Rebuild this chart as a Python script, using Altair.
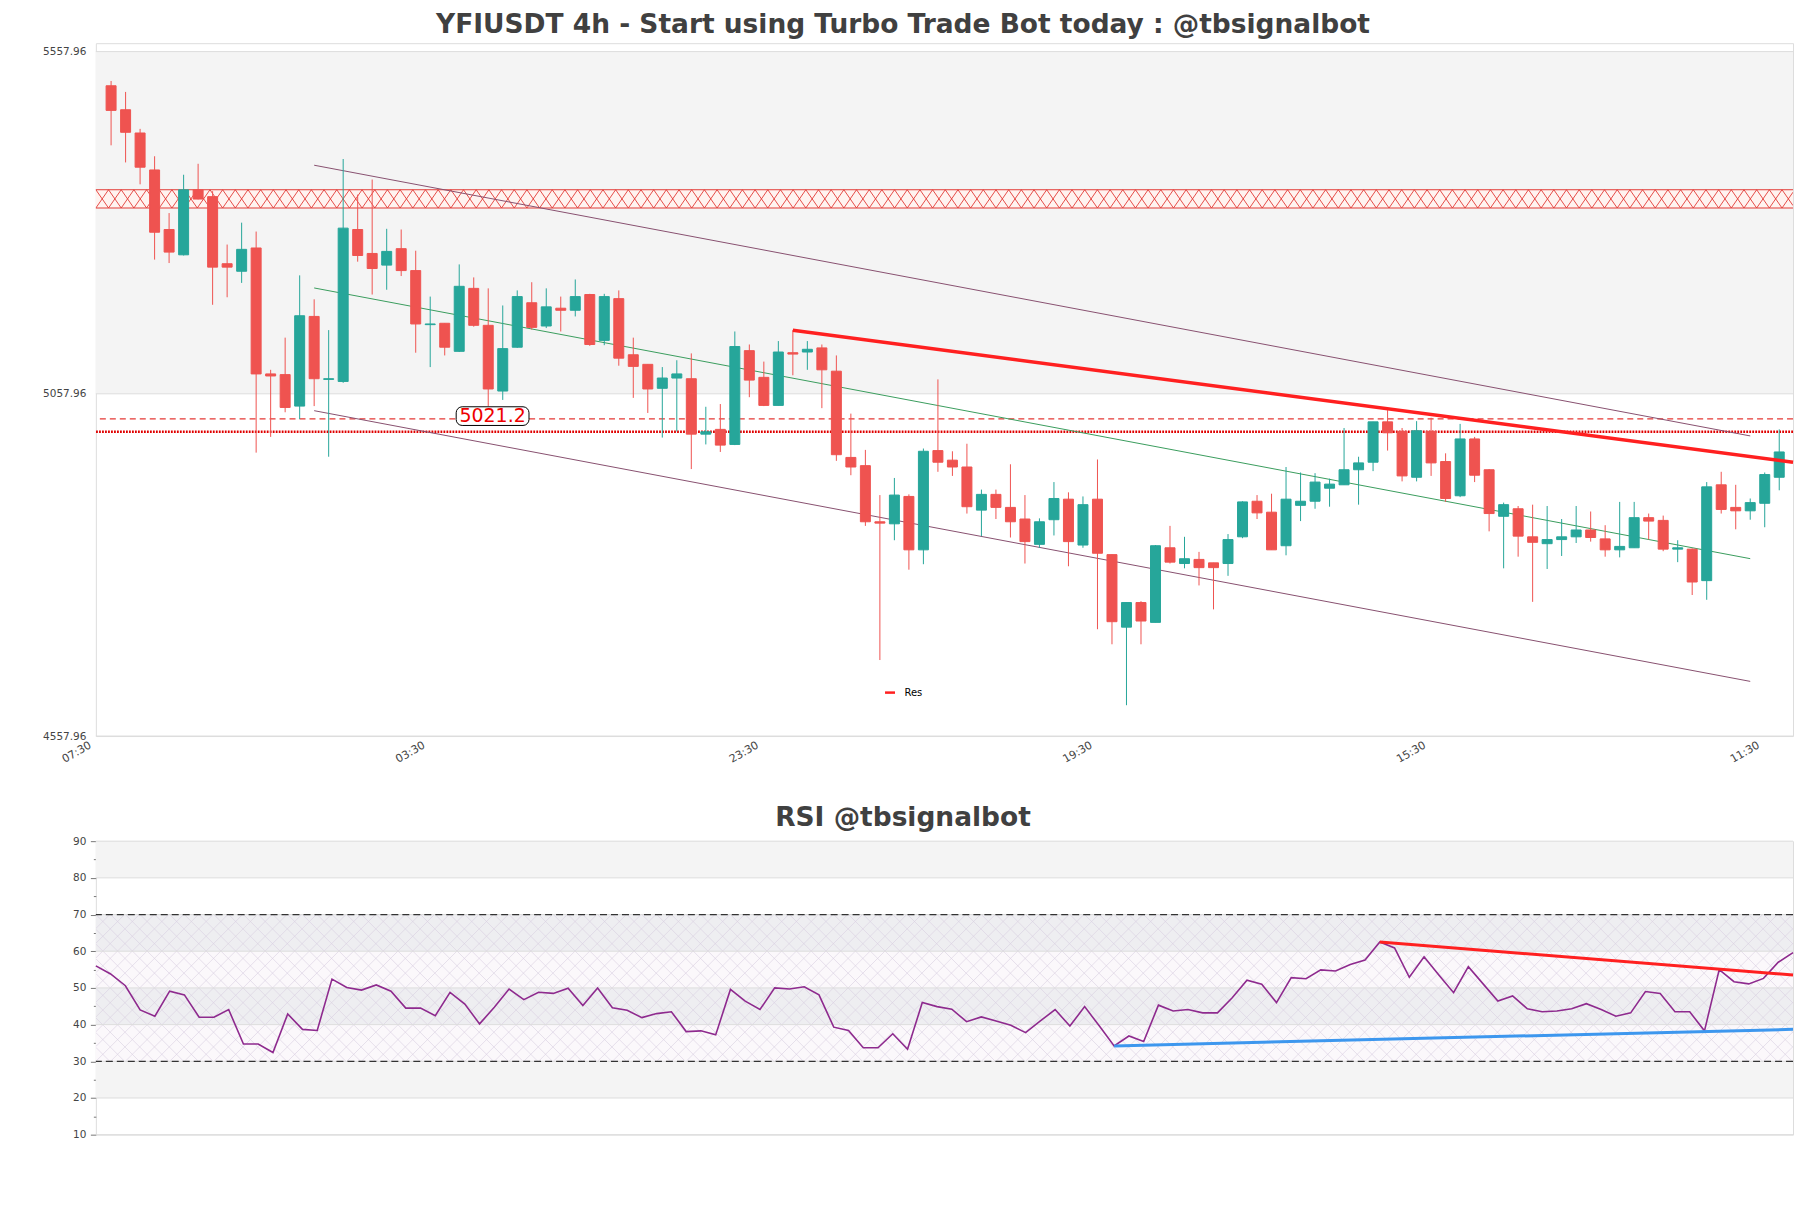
import altair as alt
import pandas as pd
import numpy as np

FONT = "DejaVu Sans"

# ---------------- data ----------------
time_labels = ["07:30", "03:30", "23:30", "19:30", "15:30", "11:30"]
time_label_pos = [0, 23, 46, 69, 92, 115]

opens = [5508, 5473, 5439, 5385, 5298, 5261, 5356, 5346, 5248, 5237,
         5271, 5087, 5086, 5040, 5171, 5079, 5076, 5298, 5263, 5246,
         5270, 5238, 5159, 5161, 5120, 5212, 5158, 5062, 5126, 5191,
         5157, 5183, 5180, 5203, 5136, 5197, 5115, 5101, 5066, 5081,
         5080, 4999, 5006, 4984, 5121, 5082, 5041, 5118, 5119, 5125,
         5091, 4965, 4953, 4871, 4868, 4908, 4830, 4975, 4961, 4951,
         4888, 4911, 4892, 4875, 4838, 4874, 4904, 4837, 4904, 4823,
         4717, 4753, 4724, 4833, 4810, 4816, 4811, 4810, 4849, 4901,
         4885, 4836, 4895, 4901, 4920, 4925, 4947, 4958, 5017, 5003,
         4936, 5003, 4959, 4909, 4992, 4947, 4879, 4890, 4849, 4839,
         4845, 4849, 4859, 4846, 4830, 4833, 4877, 4873, 4831, 4831,
         4785, 4925, 4892, 4887, 4898, 4936]
highs = [5515, 5499, 5445, 5405, 5322, 5378, 5394, 5354, 5276, 5308,
         5295, 5093, 5140, 5231, 5196, 5151, 5401, 5349, 5371, 5299,
         5298, 5267, 5200, 5161, 5247, 5228, 5212, 5187, 5209, 5221,
         5212, 5200, 5225, 5204, 5204, 5209, 5140, 5101, 5097, 5107,
         5117, 5039, 5043, 5149, 5130, 5105, 5135, 5151, 5135, 5130,
         5114, 5029, 4976, 4910, 4935, 4911, 4978, 5079, 4974, 4985,
         4918, 4918, 4955, 4910, 4876, 4929, 4914, 4908, 4962, 4823,
         4753, 4755, 4837, 4865, 4849, 4827, 4811, 4853, 4901, 4910,
         4912, 4951, 4943, 4942, 4934, 5008, 4966, 5017, 5034, 5008,
         5018, 5023, 4971, 5014, 4995, 4948, 4899, 4894, 4896, 4894,
         4875, 4894, 4886, 4866, 4900, 4900, 4883, 4880, 4844, 4832,
         4929, 4944, 4925, 4905, 4943, 5006]
lows = [5421, 5396, 5364, 5254, 5249, 5260, 5342, 5188, 5199, 5220,
        4972, 4995, 5031, 5021, 5040, 4966, 5074, 5251, 5203, 5210,
        5230, 5118, 5097, 5114, 5119, 5156, 5040, 5049, 5125, 5152,
        5154, 5149, 5171, 5128, 5129, 5099, 5052, 5030, 4994, 5003,
        4948, 4984, 4973, 4983, 5053, 5040, 5041, 5085, 5093, 5037,
        4960, 4939, 4865, 4669, 4844, 4801, 4809, 4944, 4938, 4883,
        4850, 4875, 4848, 4810, 4833, 4851, 4806, 4833, 4714, 4692,
        4603, 4692, 4724, 4810, 4803, 4778, 4743, 4792, 4847, 4875,
        4830, 4822, 4872, 4890, 4893, 4925, 4896, 4945, 4975, 4930,
        4930, 4938, 4900, 4907, 4929, 4857, 4803, 4820, 4754, 4802,
        4821, 4840, 4842, 4820, 4819, 4833, 4845, 4828, 4812, 4764,
        4757, 4883, 4860, 4874, 4863, 4917]
closes = [5472, 5440, 5389, 5294, 5265, 5356, 5342.5, 5243, 5243, 5269,
          5087, 5084, 5038, 5172, 5080, 5080, 5300, 5260, 5241, 5266,
          5238, 5160, 5160, 5126, 5215, 5158, 5065, 5124, 5200, 5155,
          5185, 5180, 5200, 5130, 5200, 5110, 5098, 5065, 5081, 5087,
          4999, 5002.5, 4983, 5127, 5078, 5041, 5119, 5116, 5123, 5093,
          4969, 4951, 4871, 4869, 4910, 4830, 4974, 4958, 4951, 4893,
          4911, 4892, 4871, 4842, 4871, 4905, 4842, 4896, 4825, 4725,
          4753, 4726, 4836, 4812, 4817, 4804, 4804, 4845, 4900, 4884,
          4830, 4904, 4901, 4929, 4926, 4947, 4957, 5017, 5001, 4938,
          5004, 4957, 4905, 4992, 4939, 4883, 4896, 4850, 4841, 4845,
          4849, 4859, 4848, 4830, 4835, 4877, 4872, 4831, 4833, 4783,
          4922, 4889, 4887, 4899, 4940, 4973]
rsi = [56.0, 53.8, 50.6, 44.0, 42.3, 49.1, 48.1, 42.0, 42.0, 44.1,
       34.7, 34.7, 32.4, 42.9, 38.7, 38.4, 52.4, 50.1, 49.4, 50.8,
       49.1, 44.5, 44.5, 42.4, 48.8, 45.6, 40.2, 44.7, 49.7, 46.8,
       48.8, 48.5, 49.9, 45.2, 50.0, 44.6, 43.9, 41.9, 43.0, 43.5,
       38.1, 38.3, 37.2, 49.6, 46.4, 44.1, 50.0, 49.7, 50.3, 48.1,
       39.3, 38.4, 33.7, 33.7, 37.5, 33.3, 46.0, 44.9, 44.2, 40.8,
       42.1, 41.0, 39.8, 37.8, 41.0, 44.1, 39.6, 44.9, 39.6, 34.2,
       36.9, 35.4, 45.3, 43.7, 44.1, 43.2, 43.2, 47.3, 52.1, 51.0,
       46.0, 52.8, 52.5, 54.9, 54.6, 56.4, 57.6, 62.5, 60.9, 52.9,
       58.5, 53.5, 48.7, 55.8, 51.1, 46.4, 47.8, 44.3, 43.5, 43.7,
       44.3, 45.7, 44.1, 42.3, 43.2, 49.0, 48.5, 43.5, 43.5, 38.3,
       55.0, 51.7, 51.1, 52.6, 57.0, 59.6]

price_ticks = [4557.96, 5057.96, 5557.96]
shade_band = [5057.96, 5557.96]
zone = [5329.4, 5356.1]
dashed_level = 5021.2
dotted_level = 5002.5
channel_x = [14, 113]
channel_mid = [5212.6, 4817.1]
channel_off = 179.3
res_x = [47, 115.95]
res_y = [5150.8, 4958.0]
rsi_res_x = [87, 115]
rsi_res_y = [62.5, 53.5]
rsi_sup_x = [69, 115]
rsi_sup_y = [34.2, 38.7]

# ---------------- layout constants ----------------
W = 1700
H_MAIN = 694
H_RSI = 294
XMIN, XMAX = -1.05, 115.95
YMIN, YMAX = 4557.96, 5570.2
RXMIN, RXMAX = 0, 115
UP, DOWN = "#26a69a", "#ef5350"

xs = alt.Scale(domain=[XMIN, XMAX], nice=False, zero=False, padding=0)
ys = alt.Scale(domain=[YMIN, YMAX], nice=False, zero=False, padding=0)

label_expr = "[" + ",".join("'%s'" % t for t in time_labels) + "][indexof([" + \
    ",".join(str(p) for p in time_label_pos) + "], datum.value)]"
x_axis = alt.Axis(values=time_label_pos, labelExpr=label_expr, labelAngle=-30,
                  labelAlign="right", labelBaseline="top", labelOffset=-24,
                  labelPadding=3, labelFontSize=11, labelColor="#444444",
                  labelFont=FONT, ticks=False, domain=False, grid=False)
y_axis = alt.Axis(values=price_ticks, format=".2f", ticks=False, domain=False,
                  grid=False, labelFontSize=10.5, labelPadding=10,
                  labelColor="#444444", labelFont=FONT)


def X(f):
    return alt.X(f, type="quantitative", scale=xs, axis=x_axis, title=None)


def Y(f):
    return alt.Y(f, type="quantitative", scale=ys, axis=y_axis, title=None)


idx = np.arange(len(opens))
cdf = pd.DataFrame({"i": idx, "o": opens, "h": highs, "l": lows, "c": closes})
cdf["col"] = np.where(cdf["c"] >= cdf["o"], UP, DOWN)

band_df = pd.DataFrame({"x0": [XMIN], "x1": [XMAX], "y0": [shade_band[0]], "y1": [shade_band[1]]})
band = alt.Chart(band_df).mark_rect(color="#f4f4f4").encode(
    x=X("x0"), x2="x1", y=Y("y0"), y2="y1")

grid = alt.Chart(pd.DataFrame({"y": price_ticks})).mark_rule(
    color="#dddddd", strokeWidth=1).encode(y=Y("y"))

zone_df = pd.DataFrame({"x0": [XMIN], "x1": [XMAX], "y0": [zone[0]], "y1": [zone[1]]})
zone_rect = alt.Chart(zone_df).mark_rect(color="#fff3f0").encode(
    x=X("x0"), x2="x1", y=Y("y0"), y2="y1")
zone_edges = alt.Chart(pd.DataFrame({"y": zone})).mark_rule(
    color="#e23a36", strokeWidth=1).encode(y=Y("y"))

# hatch decoration of the zone (two zig-zags forming X's), kept inside the x-domain
step = 0.874
nseg = int(np.floor((XMAX - XMIN) / step))
rows = []
for g, phase in (("a", 0), ("b", 1)):
    for k in range(nseg + 1):
        top = (k + phase) % 2 == 0
        rows.append({"x": XMIN + k * step, "y": zone[1] if top else zone[0], "g": g})
    frac = (XMAX - (XMIN + nseg * step)) / step
    y_last = rows[-1]["y"]
    y_next = zone[0] if y_last == zone[1] else zone[1]
    rows.append({"x": XMAX, "y": y_last + (y_next - y_last) * frac, "g": g})
hatch = alt.Chart(pd.DataFrame(rows)).mark_line(
    color="#e23a36", strokeWidth=0.9, clip=True).encode(
    x=X("x"), y=Y("y"), detail="g:N")

dashed = alt.Chart(pd.DataFrame({"y": [dashed_level]})).mark_rule(
    color="#e53935", strokeWidth=1.3, strokeDash=[6, 4]).encode(y=Y("y"))
dotted = alt.Chart(pd.DataFrame({"y": [dotted_level]})).mark_rule(
    color="#e00000", strokeWidth=2.5, strokeDash=[1.8, 1.2]).encode(y=Y("y"))

ch_rows = []
for name, off, clr in [("up", channel_off, "#88506f"), ("mid", 0.0, "#3a9d5d"),
                       ("lo", -channel_off, "#88506f")]:
    for xv, mv in zip(channel_x, channel_mid):
        ch_rows.append({"x": xv, "y": mv + off, "name": name, "clr": clr})
channel = alt.Chart(pd.DataFrame(ch_rows)).mark_line(strokeWidth=1).encode(
    x=X("x"), y=Y("y"), detail="name:N", stroke=alt.Stroke("clr:N", scale=None))

wicks = alt.Chart(cdf).mark_rule(strokeWidth=1).encode(
    x=X("i"), y=Y("l"), y2="h", stroke=alt.Stroke("col:N", scale=None))
bodies = alt.Chart(cdf).mark_bar(size=10, strokeWidth=1).encode(
    x=X("i"), y=Y("o"), y2="c",
    fill=alt.Fill("col:N", scale=None), stroke=alt.Stroke("col:N", scale=None))

res_df = pd.DataFrame({"x": res_x, "y": res_y, "name": ["Res", "Res"]})
res = alt.Chart(res_df).mark_line(strokeWidth=3.5).encode(
    x=X("x"), y=Y("y"),
    color=alt.Color("name:N", scale=alt.Scale(domain=["Res"], range=["#ff2020"]),
                    legend=alt.Legend(orient="none", legendX=789, legendY=644,
                                      title=None, symbolType="stroke",
                                      symbolStrokeWidth=2.5, symbolSize=100,
                                      labelFontSize=10, labelFont=FONT,
                                      labelColor="#000000", labelOffset=8,
                                      padding=0)))

LBL_X = 26.3
box_df = pd.DataFrame({"x0": [LBL_X - 2.51], "x1": [LBL_X + 2.51],
                       "y0": [dashed_level - 9.5], "y1": [dashed_level + 17.8]})
box = alt.Chart(box_df).mark_rect(fill="white", stroke="black", strokeWidth=1,
                                  cornerRadius=6).encode(
    x=X("x0"), x2="x1", y=Y("y0"), y2="y1")
txt = alt.Chart(pd.DataFrame({"x": [LBL_X], "y": [dashed_level + 4.1],
                              "t": [f"{dashed_level}"]})).mark_text(
    color="#ee0000", fontSize=19, font=FONT, baseline="middle", align="center").encode(
    x=X("x"), y=Y("y"), text="t:N")

main = alt.layer(band, grid, zone_rect, hatch, zone_edges, dashed, dotted, channel,
                 wicks, bodies, res, box, txt).properties(
    width=W, height=H_MAIN,
    title=alt.TitleParams("YFIUSDT 4h - Start using Turbo Trade Bot today : @tbsignalbot",
                          fontSize=26.5, font=FONT, fontWeight="bold", color="#404040",
                          anchor="middle", dx=-41.5, offset=5))

# ---------------- RSI panel ----------------
rxs = alt.Scale(domain=[RXMIN, RXMAX], nice=False, zero=False, padding=0)
rys = alt.Scale(domain=[10, 90], nice=False, zero=False, padding=0)
r_axis = alt.Axis(values=list(range(10, 95, 5)),
                  labelExpr="datum.value % 10 === 0 ? datum.label : ''",
                  tickSize={"condition": {"test": "datum.value % 10 === 0", "value": 5.5},
                            "value": 2.5},
                  tickColor="#777777", domain=False, grid=False, format="d",
                  labelFontSize=10.5, labelPadding=4.5, labelColor="#444444",
                  labelFont=FONT)


def RX(f):
    return alt.X(f, type="quantitative", scale=rxs, axis=None, title=None)


def RY(f):
    return alt.Y(f, type="quantitative", scale=rys, axis=r_axis, title=None)


rsi_bands = pd.DataFrame({
    "lo": [80, 60, 50, 40, 30, 20],
    "hi": [90, 70, 60, 50, 40, 30],
    "fill": ["#f4f4f4", "#eeeef1", "#fbf8fb", "#eeeef1", "#fbf8fb", "#f4f4f4"]})
rsi_bands["x0"] = RXMIN
rsi_bands["x1"] = RXMAX
r_band = alt.Chart(rsi_bands).mark_rect().encode(
    x=RX("x0"), x2="x1", y=RY("lo"), y2="hi", fill=alt.Fill("fill:N", scale=None))

# fine diagonal lattice decoration between 30 and 70, clipped to the x-domain
span = (70 - 30) * (H_RSI / 80.0) / (W / float(RXMAX - RXMIN))
lat = []
for k in np.arange(RXMIN - 11, RXMAX + 1, 1.0):
    for ya, yb in ((30, 70), (70, 30)):
        xa, xb = k, k + span
        t0 = max(0.0, (RXMIN - xa) / (xb - xa))
        t1 = min(1.0, (RXMAX - xa) / (xb - xa))
        if t0 < t1:
            lat.append({"x0": xa + (xb - xa) * t0, "x1": xa + (xb - xa) * t1,
                        "y0": ya + (yb - ya) * t0, "y1": ya + (yb - ya) * t1})
lattice = alt.Chart(pd.DataFrame(lat)).mark_rule(
    color="#d9cee0", strokeWidth=0.6, clip=True).encode(
    x=RX("x0"), x2="x1", y=RY("y0"), y2="y1")

r_grid = alt.Chart(pd.DataFrame({"y": list(range(10, 91, 10))})).mark_rule(
    color="#dddddd", strokeWidth=1).encode(y=RY("y"))
r_dash = alt.Chart(pd.DataFrame({"y": [70, 30]})).mark_rule(
    color="#333333", strokeWidth=1.2, strokeDash=[7, 4]).encode(y=RY("y"))

rsi_df = pd.DataFrame({"i": np.arange(len(rsi)), "rsi": rsi})
r_line = alt.Chart(rsi_df).mark_line(color="#8e2a8e", strokeWidth=1.6).encode(
    x=RX("i"), y=RY("rsi"))
r_res = alt.Chart(pd.DataFrame({"x": rsi_res_x, "y": rsi_res_y})).mark_line(
    color="#ff2020", strokeWidth=3).encode(x=RX("x"), y=RY("y"))
r_sup = alt.Chart(pd.DataFrame({"x": rsi_sup_x, "y": rsi_sup_y})).mark_line(
    color="#3d97ee", strokeWidth=3).encode(x=RX("x"), y=RY("y"))

rsi_chart = alt.layer(r_band, lattice, r_grid, r_dash, r_line, r_res, r_sup).properties(
    width=W, height=H_RSI,
    title=alt.TitleParams("RSI @tbsignalbot", fontSize=26.5, font=FONT, fontWeight="bold",
                          color="#404040", anchor="middle", dx=-41.5, offset=5))

chart = alt.vconcat(main, rsi_chart, spacing=105.3, bounds="flush").properties(
    padding={"left": 34, "top": 2.3, "right": 2, "bottom": 5}
).configure_view(stroke="#dddddd").configure(font=FONT)

chart.save("out.html", embed_options={"renderer": "svg", "actions": False})
